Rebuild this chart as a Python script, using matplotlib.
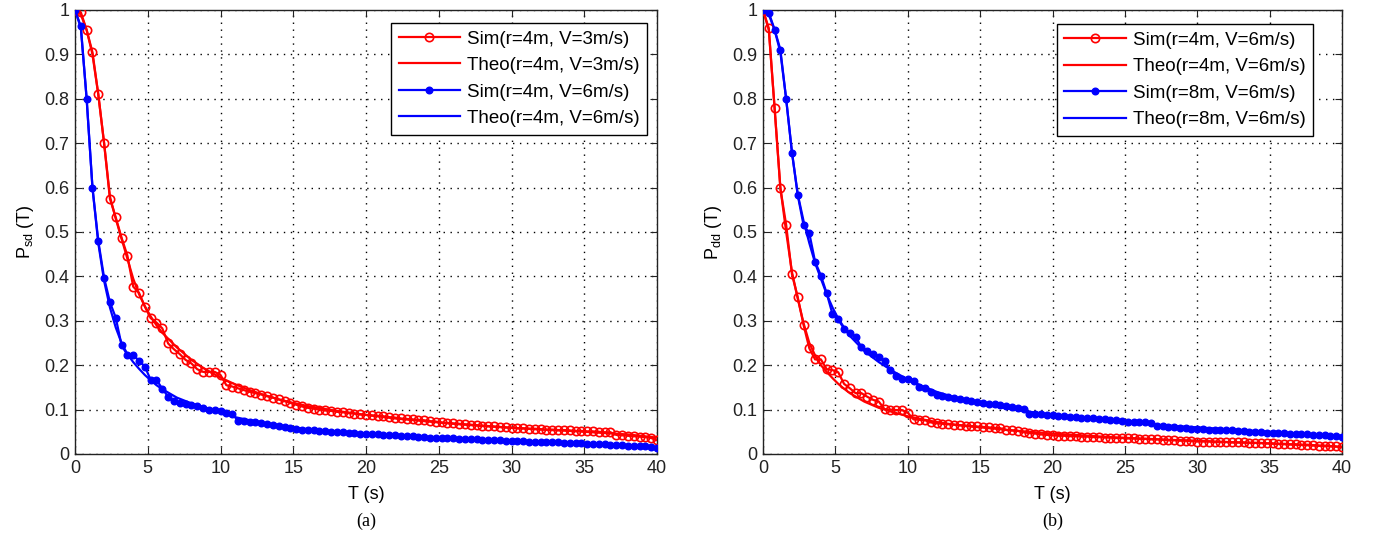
import numpy as np
import matplotlib
matplotlib.use("Agg")
import matplotlib.pyplot as plt

plt.rcParams['font.family'] = ['Liberation Sans', 'DejaVu Sans']

# ---- data ----
t_sim = np.linspace(0, 40, 101)   # simulation sample times (0.4 s step)

sim_a_red = [1.000, 0.995, 0.955, 0.905, 0.810, 0.700, 0.575, 0.533, 0.487, 0.447,
             0.377, 0.363, 0.332, 0.306, 0.296, 0.283, 0.249, 0.236, 0.225, 0.212,
             0.204, 0.191, 0.185, 0.185, 0.185, 0.178, 0.155, 0.152, 0.148, 0.144,
             0.140, 0.137, 0.134, 0.130, 0.127, 0.123, 0.119, 0.115, 0.111, 0.107,
             0.104, 0.102, 0.100, 0.098, 0.097, 0.095, 0.094, 0.092, 0.091, 0.089,
             0.088, 0.087, 0.086, 0.085, 0.083, 0.082, 0.080, 0.079, 0.078, 0.077,
             0.076, 0.074, 0.073, 0.071, 0.070, 0.069, 0.068, 0.067, 0.066, 0.065,
             0.064, 0.063, 0.062, 0.061, 0.060, 0.059, 0.058, 0.058, 0.057, 0.057,
             0.056, 0.055, 0.055, 0.054, 0.054, 0.053, 0.052, 0.052, 0.051, 0.051,
             0.050, 0.049, 0.049, 0.043, 0.042, 0.041, 0.040, 0.039, 0.038, 0.036,
             0.031]

sim_a_blue = [1.000, 0.963, 0.800, 0.600, 0.480, 0.397, 0.342, 0.307, 0.245, 0.223,
              0.223, 0.210, 0.197, 0.167, 0.167, 0.147, 0.129, 0.120, 0.115, 0.112,
              0.110, 0.108, 0.104, 0.100, 0.100, 0.097, 0.093, 0.091, 0.075, 0.074,
              0.073, 0.071, 0.069, 0.067, 0.065, 0.063, 0.061, 0.059, 0.057, 0.055,
              0.054, 0.053, 0.052, 0.051, 0.050, 0.049, 0.049, 0.048, 0.047, 0.046,
              0.045, 0.045, 0.044, 0.043, 0.043, 0.042, 0.041, 0.040, 0.040, 0.039,
              0.038, 0.037, 0.037, 0.036, 0.035, 0.035, 0.034, 0.034, 0.033, 0.033,
              0.032, 0.032, 0.031, 0.031, 0.030, 0.030, 0.029, 0.029, 0.028, 0.028,
              0.027, 0.027, 0.026, 0.026, 0.025, 0.025, 0.024, 0.024, 0.023, 0.023,
              0.022, 0.022, 0.021, 0.020, 0.020, 0.019, 0.018, 0.018, 0.017, 0.015,
              0.013]

sim_b_red = [1.000, 0.959, 0.779, 0.598, 0.516, 0.405, 0.353, 0.291, 0.238, 0.213,
             0.213, 0.191, 0.189, 0.184, 0.158, 0.148, 0.137, 0.137, 0.129, 0.122,
             0.118, 0.101, 0.100, 0.099, 0.099, 0.093, 0.078, 0.077, 0.076, 0.071,
             0.069, 0.068, 0.067, 0.066, 0.065, 0.064, 0.063, 0.062, 0.061, 0.060,
             0.059, 0.058, 0.054, 0.053, 0.052, 0.049, 0.047, 0.046, 0.044, 0.043,
             0.042, 0.041, 0.041, 0.040, 0.040, 0.039, 0.039, 0.038, 0.038, 0.037,
             0.037, 0.036, 0.036, 0.035, 0.035, 0.034, 0.034, 0.033, 0.033, 0.032,
             0.031, 0.031, 0.030, 0.030, 0.029, 0.028, 0.028, 0.028, 0.027, 0.027,
             0.027, 0.026, 0.026, 0.026, 0.025, 0.025, 0.025, 0.024, 0.024, 0.023,
             0.023, 0.022, 0.022, 0.021, 0.021, 0.020, 0.019, 0.019, 0.018, 0.017,
             0.015]

sim_b_blue = [1.000, 0.994, 0.956, 0.911, 0.799, 0.679, 0.583, 0.516, 0.497, 0.433,
              0.402, 0.362, 0.315, 0.303, 0.282, 0.273, 0.264, 0.240, 0.233, 0.225,
              0.219, 0.209, 0.189, 0.175, 0.170, 0.169, 0.165, 0.152, 0.148, 0.140,
              0.133, 0.130, 0.128, 0.126, 0.124, 0.121, 0.119, 0.116, 0.114, 0.113,
              0.112, 0.110, 0.108, 0.106, 0.104, 0.102, 0.091, 0.090, 0.089, 0.088,
              0.087, 0.086, 0.085, 0.084, 0.083, 0.082, 0.081, 0.080, 0.079, 0.078,
              0.077, 0.076, 0.074, 0.073, 0.072, 0.071, 0.071, 0.070, 0.063, 0.062,
              0.061, 0.060, 0.059, 0.058, 0.057, 0.056, 0.056, 0.055, 0.055, 0.054,
              0.053, 0.053, 0.052, 0.051, 0.050, 0.050, 0.049, 0.048, 0.048, 0.047,
              0.047, 0.046, 0.045, 0.045, 0.044, 0.043, 0.042, 0.042, 0.041, 0.040,
              0.039]

t_theo = [0, 0.4, 0.8, 1.2, 1.6, 2.0, 2.4, 2.8, 3.2, 3.6, 4.0, 4.4, 4.8, 5.2, 5.6, 6.0,
          7, 8, 9, 10, 11, 12, 13, 14, 15, 16,
          18, 20, 22, 24, 26, 28, 30, 32, 34, 36, 38, 40]

theo_a_red = [1.0, 0.99, 0.955, 0.90, 0.81, 0.70, 0.58, 0.53, 0.485, 0.44, 0.395, 0.36, 0.333, 0.31, 0.29, 0.273,
              0.240, 0.212, 0.190, 0.172, 0.157, 0.144, 0.133, 0.123, 0.115, 0.108,
              0.097, 0.088, 0.080, 0.074, 0.068, 0.063, 0.059, 0.055, 0.052, 0.048, 0.044, 0.037]

theo_a_blue = [1.0, 0.96, 0.80, 0.60, 0.475, 0.39, 0.33, 0.285, 0.25, 0.225, 0.207, 0.192, 0.178, 0.166, 0.155, 0.146,
               0.127, 0.114, 0.104, 0.094, 0.083, 0.076, 0.070, 0.065, 0.060, 0.056,
               0.050, 0.045, 0.042, 0.039, 0.036, 0.033, 0.030, 0.028, 0.025, 0.022, 0.019, 0.015]

theo_b_red = [1.0, 0.955, 0.78, 0.60, 0.50, 0.41, 0.35, 0.295, 0.25, 0.222, 0.20, 0.185, 0.171, 0.158, 0.147, 0.137,
              0.118, 0.104, 0.094, 0.085, 0.078, 0.072, 0.067, 0.063, 0.060, 0.057,
              0.051, 0.046, 0.042, 0.038, 0.035, 0.032, 0.030, 0.027, 0.025, 0.022, 0.019, 0.016]

theo_b_blue = [1.0, 0.99, 0.955, 0.905, 0.80, 0.68, 0.585, 0.525, 0.475, 0.43, 0.395, 0.36, 0.33, 0.305, 0.285, 0.266,
               0.232, 0.207, 0.186, 0.168, 0.153, 0.140, 0.130, 0.121, 0.113, 0.107,
               0.097, 0.088, 0.081, 0.075, 0.069, 0.064, 0.060, 0.056, 0.052, 0.048, 0.044, 0.040]

labels_a = ['Sim(r=4m, V=3m/s)', 'Theo(r=4m, V=3m/s)', 'Sim(r=4m, V=6m/s)', 'Theo(r=4m, V=6m/s)']
labels_b = ['Sim(r=4m, V=6m/s)', 'Theo(r=4m, V=6m/s)', 'Sim(r=8m, V=6m/s)', 'Theo(r=8m, V=6m/s)']
x_ticks = [0, 5, 10, 15, 20, 25, 30, 35, 40]
y_ticks = [0, 0.1, 0.2, 0.3, 0.4, 0.5, 0.6, 0.7, 0.8, 0.9, 1.0]
y_ticklabels = ['0', '0.1', '0.2', '0.3', '0.4', '0.5', '0.6', '0.7', '0.8', '0.9', '1']

RED = '#ff0000'
BLUE = '#0000ff'

fig = plt.figure(figsize=(13.76, 5.42), dpi=100)
W, H = 1376, 542
ax_a = fig.add_axes([75 / W, 1 - 454 / H, (657 - 75) / W, 444 / H])
ax_b = fig.add_axes([763 / W, 1 - 454 / H, (1342 - 763) / W, 444 / H])


def draw(ax, sr, tr, sb, tb, labels, ylabel, caption, leg_anchor):
    ax.plot(t_sim, sr, color=RED, lw=1.6, marker='o', ms=6, mfc='none', mew=1.2, label=labels[0], zorder=4)
    ax.plot(t_theo, tr, color=RED, lw=1.6, label=labels[1], zorder=3)
    ax.plot(t_sim, sb, color=BLUE, lw=1.6, marker='.', ms=9.5, label=labels[2], zorder=4)
    ax.plot(t_theo, tb, color=BLUE, lw=1.6, label=labels[3], zorder=3)
    ax.set_xlim(0, 40)
    ax.set_ylim(0, 1)
    ax.set_xticks(x_ticks)
    ax.set_yticks(y_ticks)
    ax.set_yticklabels(y_ticklabels)
    ax.tick_params(direction='in', top=True, right=True, length=5, width=0.8,
                   labelsize=13, colors='#222222', pad=4)
    ax.grid(True, color='black', linestyle=(0, (1, 4)), linewidth=1.0)
    ax.set_axisbelow(True)
    for s in ax.spines.values():
        s.set_linewidth(1.0)
        s.set_color('#222222')
    ax.set_xlabel('T (s)', fontsize=13, labelpad=7)
    ax.set_ylabel(ylabel, fontsize=13, labelpad=6)
    leg = ax.legend(loc='upper right', bbox_to_anchor=leg_anchor, fontsize=13.5,
                    handlelength=3.3, handletextpad=0.35, labelspacing=0.5,
                    borderpad=0.4, borderaxespad=0, fancybox=False, framealpha=1,
                    edgecolor='black')
    leg.get_frame().set_linewidth(1.0)
    ax.text(0.5, -0.132, caption, transform=ax.transAxes, ha='center', va='top',
            fontsize=13, family='Liberation Serif')


draw(ax_a, sim_a_red, theo_a_red, sim_a_blue, theo_a_blue, labels_a,
     r'P$_{\mathregular{sd}}$ (T)', '(a)', (0.983, 0.971))
draw(ax_b, sim_b_red, theo_b_red, sim_b_blue, theo_b_blue, labels_b,
     r'P$_{\mathregular{dd}}$ (T)', '(b)', (0.95, 0.968))

fig.savefig('out.png', dpi=100)
